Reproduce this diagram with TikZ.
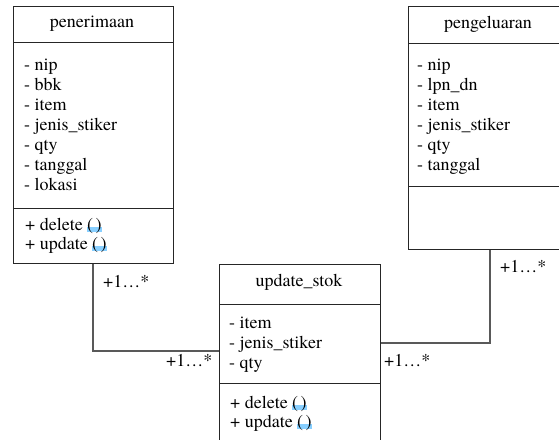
\documentclass[tikz,border=0pt]{standalone}
\usepackage{fontspec}
\newfontfamily\umlfont{texgyretermes-regular.otf}
\usetikzlibrary{backgrounds}
\begin{document}
\begin{tikzpicture}[x=1pt,y=-1pt,
  txt/.style={anchor=base west, inner sep=0pt, font=\umlfont\fontsize{18}{20}\selectfont},
  ttl/.style={anchor=center, inner sep=0pt, font=\umlfont\fontsize{18}{20}\selectfont},
  umlbox/.style={draw=black!85, line width=1pt, rectangle, inner sep=0pt, anchor=north west},
  sep/.style={draw=black!85, line width=1pt},
  link/.style={draw=black!65, line width=1.2pt},
  mult/.style={anchor=base west, inner sep=0pt, font=\umlfont\fontsize{18}{20}\selectfont},
  spell/.style={fill=blue!40!cyan!55!white, opacity=0.85}
]
\useasboundingbox (0,0) rectangle (559,439);
\clip (0,0) rectangle (559,439);

% class boxes
\node[umlbox, minimum width=160pt, minimum height=257pt] (pen) at (13,6) {};
\node[umlbox, minimum width=160pt, minimum height=243pt] (pgl) at (408,6) {};
\node[umlbox, minimum width=161pt, minimum height=185pt] (upd) at (219,264) {};

% compartments
\draw[sep] (pen.west |- 0,42) -- (pen.east |- 0,42);
\draw[sep] (pen.west |- 0,208) -- (pen.east |- 0,208);
\draw[sep] (pgl.west |- 0,43) -- (pgl.east |- 0,43);
\draw[sep] (pgl.west |- 0,186) -- (pgl.east |- 0,186);
\draw[sep] (upd.west |- 0,304) -- (upd.east |- 0,304);
\draw[sep] (upd.west |- 0,383) -- (upd.east |- 0,383);

% titles
\node[ttl] (tpen) at (92,24) {penerimaan};
\node[ttl] (tpgl) at (488,24) {pengeluaran};
\node[ttl] (tupd) at (299,282) {update\_stok};

% attributes
\foreach \t [count=\i] in {nip,bbk,item,jenis\_stiker,qty,tanggal,lokasi}
  \node[txt] (pa\i) at (24,{50+20*\i}) {- \t};
\foreach \t [count=\i] in {nip,lpn\_dn,item,jenis\_stiker,qty,tanggal}
  \node[txt] (ga\i) at (417,{50+20*\i}) {- \t};
\foreach \t [count=\i] in {item,jenis\_stiker,qty}
  \node[txt] (ua\i) at (229,{308+20*\i}) {- \t};

% operations
\node[txt] (pm1) at (25,230) {+ delete};
\node[txt] (pm2) at (25,249) {+ update};
\node[txt] (um1) at (230,408) {+ delete};
\node[txt] (um2) at (230,427) {+ update};
\foreach \m in {pm1,pm2,um1,um2}{
  \node[txt] (\m p) at ([xshift=4pt]\m.base east) {(\hspace{2.5pt})};
  \begin{scope}[on background layer]
    \fill[spell] ([yshift=-1.5pt]\m p.base west) rectangle ([yshift=3.5pt]\m p.base east);
  \end{scope}
}

% associations
\coordinate (c1) at (93,351);
\coordinate (c2) at (490,343);
\draw[link] (pen.south -| c1) -- (c1) -- (upd.west |- c1);
\draw[link] (upd.east |- c2) -- (c2) -- (pgl.south -| c2);

% multiplicities
\node[mult] (m1) at (103,287) {+1…*};
\node[mult] (m2) at (166,366) {+1…*};
\node[mult] (m3) at (384,366) {+1…*};
\node[mult] (m4) at (500,272) {+1…*};
\end{tikzpicture}
\end{document}
